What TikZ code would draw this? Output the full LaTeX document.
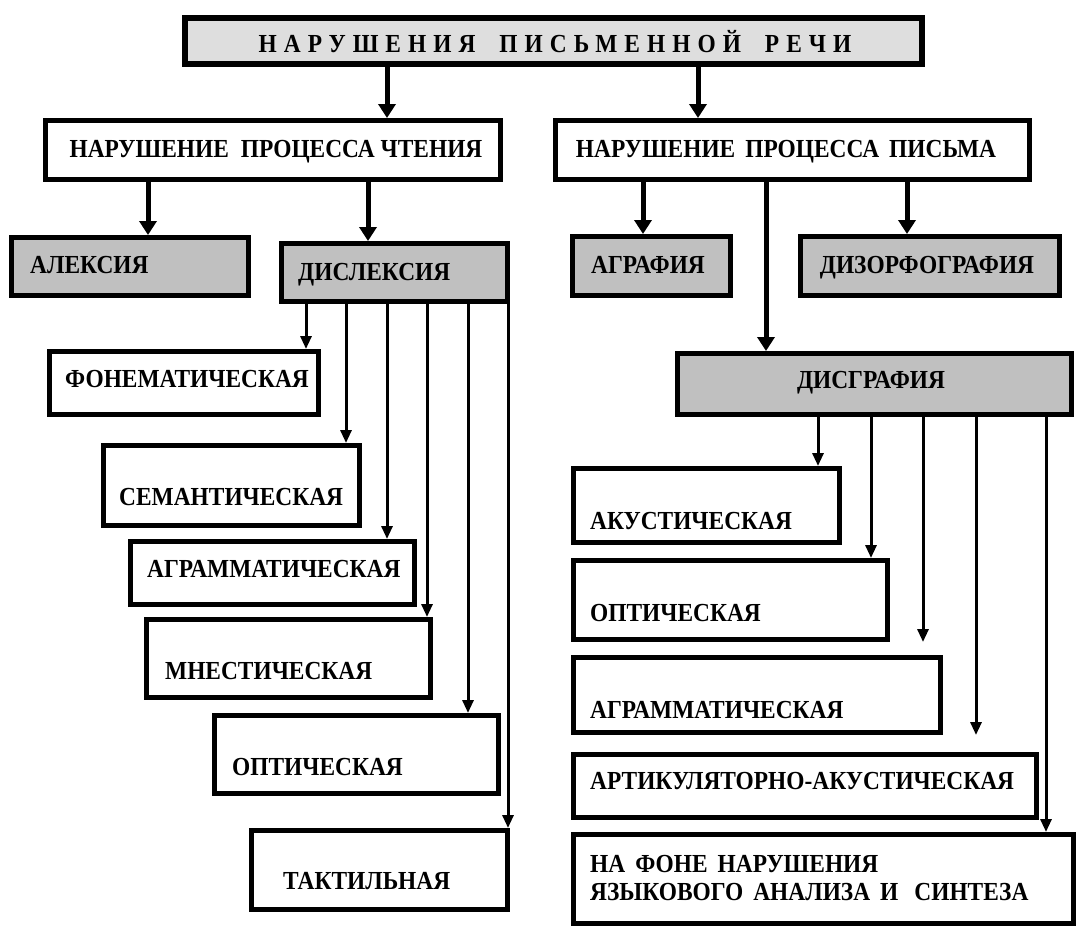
\documentclass[tikz,border=0pt]{standalone}
\usepackage{fontspec}
\setmainfont{Liberation Serif}[BoldFont={Liberation Serif Bold}, FakeStretch=0.9]
\usetikzlibrary{arrows.meta,fit,calc}
\definecolor{titlegray}{RGB}{222,222,222}
\definecolor{boxgray}{RGB}{192,192,192}
\begin{document}
\begin{tikzpicture}[x=1pt,y=-1pt,
  box/.style={draw=black, line width=5pt, inner sep=0pt, fill=white},
  gbox/.style={box, fill=boxgray},
  tbox/.style={box, line width=6pt, fill=titlegray},
  txt/.style={font=\bfseries\fontsize{26}{30}\selectfont, inner sep=0pt, anchor=base west},
  ctxt/.style={txt, anchor=base},
  mainarr/.style={line width=5pt, -{Triangle[width=17pt,length=14pt]}},
  subarr/.style={line width=3pt, -{Triangle[width=11pt,length=13pt]}}]
\useasboundingbox (0,0) rectangle (1079,926);
\fill[white] (0,0) rectangle (1079,926);

% boxes (outer edges inset by half line width)
\node[tbox, fit={(185,18) (922,64)}] (top) {};
\node[box, fit={(45.5,120.5) (500.5,179.5)}] (read) {};
\node[box, fit={(555.5,120.5) (1029.5,179.5)}] (write) {};
\node[gbox, fit={(11.5,237.5) (248.5,295.5)}] (alex) {};
\node[gbox, fit={(281.5,243.5) (507.5,301.5)}] (dysl) {};
\node[gbox, fit={(572.5,236.5) (730.5,295.5)}] (agr) {};
\node[gbox, fit={(800.5,236.5) (1059.5,295.5)}] (dysor) {};
\node[gbox, fit={(677.5,353.5) (1071.5,414.5)}] (dysg) {};

\node[box, fit={(49.5,351.5) (318.5,414.5)}] (phon) {};
\node[box, fit={(103.5,445.5) (359.5,525.5)}] (sem) {};
\node[box, fit={(130.5,541.5) (414.5,604.5)}] (agrl) {};
\node[box, fit={(146.5,619.5) (430.5,697.5)}] (mnes) {};
\node[box, fit={(214.5,715.5) (498.5,793.5)}] (optl) {};
\node[box, fit={(251.5,830.5) (507.5,909.5)}] (tact) {};

\node[box, fit={(573.5,468.5) (839.5,542.5)}] (acou) {};
\node[box, fit={(573.5,560.5) (887.5,639.5)}] (optr) {};
\node[box, fit={(573.5,657.5) (940.5,732.5)}] (agrr) {};
\node[box, fit={(573.5,754.5) (1036.5,817.5)}] (artic) {};
\node[box, fit={(573.5,834.5) (1073.5,923)}] (lang) {};

% texts
\node[ctxt] at (555,52) {\addfontfeature{LetterSpace=27}НАРУШЕНИЯ\hspace{24pt}ПИСЬМЕННОЙ\hspace{24pt}РЕЧИ};
\node[ctxt] at (276,157) {НАРУШЕНИЕ\hspace{12pt}ПРОЦЕССА ЧТЕНИЯ};
\node[ctxt] at (786,157) {НАРУШЕНИЕ\hspace{10pt}ПРОЦЕССА\hspace{10pt}ПИСЬМА};
\node[txt] at (30,273) {АЛЕКСИЯ};
\node[txt] at (298,280) {ДИСЛЕКСИЯ};
\node[ctxt] at (648,273) {АГРАФИЯ};
\node[ctxt] at (927,273) {ДИЗОРФОГРАФИЯ};
\node[ctxt] at (871,388) {ДИСГРАФИЯ};
\node[txt] at (65,387) {ФОНЕМАТИЧЕСКАЯ};
\node[txt] at (119,505) {СЕМАНТИЧЕСКАЯ};
\node[txt] at (147,577) {АГРАММАТИЧЕСКАЯ};
\node[txt] at (165,679) {МНЕСТИЧЕСКАЯ};
\node[txt] at (232,775) {ОПТИЧЕСКАЯ};
\node[txt] at (283,889) {ТАКТИЛЬНАЯ};
\node[txt] at (590,529) {АКУСТИЧЕСКАЯ};
\node[txt] at (590,621) {ОПТИЧЕСКАЯ};
\node[txt] at (590,718) {АГРАММАТИЧЕСКАЯ};
\node[txt] at (590,789) {АРТИКУЛЯТОРНО-АКУСТИЧЕСКАЯ};
\node[txt] at (590,872) {НА\hspace{10pt}ФОНЕ\hspace{10pt}НАРУШЕНИЯ};
\node[txt] at (590,900) {ЯЗЫКОВОГО\hspace{10pt}АНАЛИЗА\hspace{10pt}И\hspace{16pt}СИНТЕЗА};

% x positions of connectors
\coordinate (xr) at (387,0);
\coordinate (xw) at (698,0);
\coordinate (xal) at (148,0);
\coordinate (xdl) at (368,0);
\coordinate (xag) at (643,0);
\coordinate (xdo) at (907,0);
\coordinate (xdg) at (766,0);
\coordinate (l1) at (306,0);
\coordinate (l2) at (346,0);
\coordinate (l3) at (387,0);
\coordinate (l4) at (427,0);
\coordinate (l5) at (468,0);
\coordinate (l6) at (508,0);
\coordinate (r1) at (818,0);
\coordinate (r2) at (871,0);
\coordinate (r3) at (923,0);
\coordinate (r4) at (976,0);
\coordinate (r5) at (1046,0);
\coordinate (e3) at (923,642);
\coordinate (e4) at (976,735);

% main connectors
\draw[mainarr] (top.south -| xr) -- (read.north -| xr);
\draw[mainarr] (top.south -| xw) -- (write.north -| xw);
\draw[mainarr] (read.south -| xal) -- (alex.north -| xal);
\draw[mainarr] (read.south -| xdl) -- (dysl.north -| xdl);
\draw[mainarr] (write.south -| xag) -- (agr.north -| xag);
\draw[mainarr] (write.south -| xdo) -- (dysor.north -| xdo);
\draw[mainarr] (write.south -| xdg) -- (dysg.north -| xdg);

% dyslexia branches
\draw[subarr] (dysl.south -| l1) -- (phon.north -| l1);
\draw[subarr] (dysl.south -| l2) -- (sem.north -| l2);
\draw[subarr] (dysl.south -| l3) -- (agrl.north -| l3);
\draw[subarr] (dysl.south -| l4) -- (mnes.north -| l4);
\draw[subarr] (dysl.south -| l5) -- (optl.north -| l5);
\draw[subarr] (dysl.south -| l6) -- (tact.north -| l6);

% dysgraphia branches
\draw[subarr] (dysg.south -| r1) -- (acou.north -| r1);
\draw[subarr] (dysg.south -| r2) -- (optr.north -| r2);
\draw[subarr] (dysg.south -| r3) -- (e3);
\draw[subarr] (dysg.south -| r4) -- (e4);
\draw[subarr] (dysg.south -| r5) -- (lang.north -| r5);
\end{tikzpicture}
\end{document}
